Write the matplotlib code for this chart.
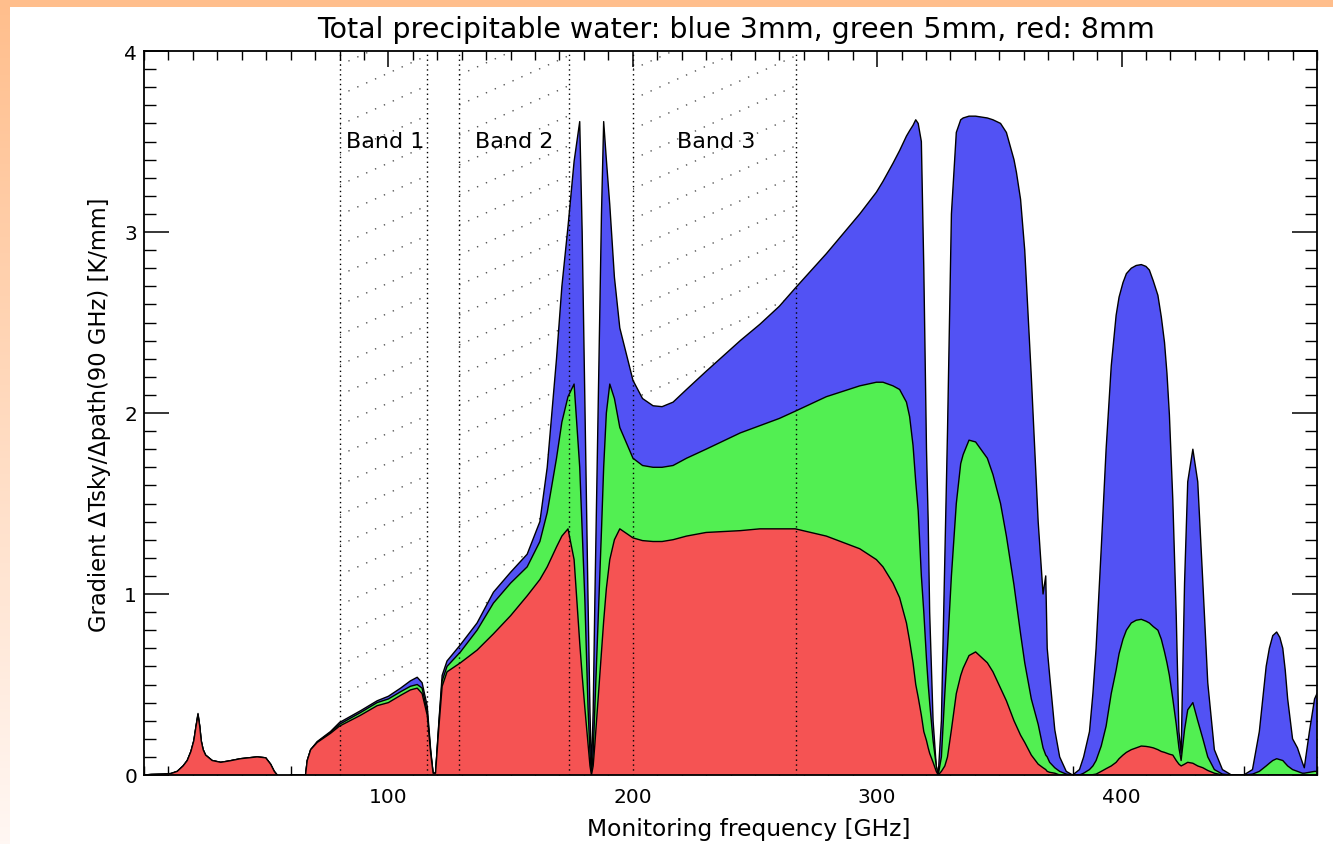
import numpy as np
import matplotlib
matplotlib.use("Agg")
import matplotlib.pyplot as plt
from matplotlib.patches import Rectangle

# ---------------- data ----------------
freq = [0, 3, 8, 11, 13.6, 16, 17.7, 19.2, 20.4, 21.3, 22.1, 22.8, 23.4, 24.2, 25.2,
        27.9, 31.4, 35, 39.5, 46.3, 49.8, 51.8, 53.3, 54.5, 57, 60, 66.1, 66.8, 68.2,
        70.9, 76.3, 80, 88.6, 95.4, 100, 105, 109, 111.8, 113.8, 115.9, 117.3, 118.3,
        119.3, 120.7, 122, 124, 129.5, 136.3, 143, 150, 156.8, 162, 165, 168.8, 171,
        173.5, 176, 178.3, 179.3, 180.4, 181.7, 182.5, 183.1, 183.8, 184.5, 186.2,
        187.2, 188.1, 189.2, 190.6, 192.5, 194.7, 200.1, 204, 208.3, 212, 216.5, 222,
        230, 244,
        252, 260, 266.5, 279.2, 292.9, 299.7, 302.4, 306.5, 309.2, 312, 313.3, 314.7,
        315.8, 316.8, 318.1, 319.1, 320.2, 320.9, 321.5, 322.9, 324.2, 325, 326.3,
        327.7, 328.8, 330.4, 332.4, 334.2, 335.2, 337.6, 340.3, 345.1, 347.4, 350.5,
        352.9, 356, 357, 358.7, 360.4, 363.1, 365.9, 367.9, 369, 369.6, 370.6, 372.7,
        374.7, 377.4, 380, 382.8, 384.5, 386.9, 388.3, 389.6, 391.7, 393.7, 395.8,
        397.8, 399.0, 400.6, 402.0, 404, 406.0, 408.1, 410.0, 411.4, 413.0, 414.9,
        416.3, 417.6, 418.6, 419.6, 421, 422.4, 423.5, 424.4, 425.8, 427.1, 429.2,
        431.2, 433.3, 435.3, 438, 441.3, 445, 450, 453.6, 456.4, 459.2, 460.5, 461.9,
        463.5, 464.8, 466, 467, 468, 470, 472, 474, 474.8, 476.9, 479, 480]

red_8mm = [0, 0.003, 0.005, 0.008, 0.02, 0.05, 0.08, 0.13, 0.19, 0.27, 0.33, 0.27, 0.19,
           0.14, 0.11, 0.08, 0.07, 0.078, 0.09, 0.10, 0.095, 0.06, 0.02, 0.0, np.nan, 0.0,
           0.0, 0.08, 0.14, 0.18, 0.23, 0.27, 0.33, 0.383, 0.40, 0.44, 0.47, 0.48, 0.45,
           0.33, 0.12, 0.01, 0.01, 0.27, 0.49, 0.57, 0.62, 0.69, 0.78, 0.88, 0.99, 1.08,
           1.15, 1.26, 1.32, 1.36, 1.19, 0.73, 0.55, 0.37, 0.17, 0.05, 0.0, 0.05, 0.17,
           0.49, 0.67, 0.85, 1.03, 1.19, 1.30, 1.36, 1.31, 1.295, 1.29, 1.29, 1.30, 1.32,
           1.34, 1.35,
           1.36, 1.36, 1.36, 1.32, 1.25, 1.19, 1.15, 1.06, 0.98, 0.84, 0.74, 0.62, 0.50,
           0.43, 0.33, 0.24, 0.19, 0.15, 0.12, 0.07, 0.02, 0.0, 0.02, 0.05, 0.10, 0.25,
           0.45, 0.55, 0.59, 0.66, 0.68, 0.62, 0.57, 0.48, 0.41, 0.30, 0.27, 0.22, 0.18,
           0.11, 0.06, 0.04, 0.03, 0.02, 0.015, 0.01, 0.0, 0.0, 0.0, 0.0, 0.0, 0.0,
           0.002, 0.005, 0.02, 0.035, 0.05, 0.07, 0.09, 0.11, 0.125, 0.14, 0.15, 0.16,
           0.158, 0.155, 0.15, 0.14, 0.13, 0.125, 0.12, 0.115, 0.11, 0.08, 0.06, 0.05,
           0.06, 0.07, 0.065, 0.05, 0.04, 0.025, 0.01, 0.0, 0.0, 0.0, 0.0, 0.0, 0.0,
           0.0, 0.0, 0.0, 0.0, 0.0, 0.0, 0.0, 0.0, 0.0, 0.0, 0.0, 0.0, 0.0, 0.0]

green_5mm = [0, 0.003, 0.005, 0.008, 0.02, 0.05, 0.08, 0.13, 0.19, 0.27, 0.335, 0.27, 0.19,
             0.14, 0.11, 0.08, 0.07, 0.078, 0.09, 0.10, 0.095, 0.06, 0.02, 0.0, np.nan, 0.0,
             0.0, 0.08, 0.14, 0.182, 0.235, 0.28, 0.345, 0.40, 0.42, 0.46, 0.49, 0.50, 0.48,
             0.35, 0.13, 0.01, 0.01, 0.29, 0.52, 0.60, 0.68, 0.80, 0.95, 1.06, 1.15, 1.29,
             1.45, 1.75, 1.95, 2.09, 2.16, 1.70, 1.35, 0.97, 0.37, 0.12, 0.0, 0.12, 0.37,
             0.97, 1.35, 1.70, 2.0, 2.16, 2.08, 1.92, 1.75, 1.71, 1.70, 1.70, 1.71, 1.75,
             1.80, 1.89,
             1.93, 1.97, 2.01, 2.09, 2.15, 2.17, 2.17, 2.15, 2.13, 2.06, 1.98, 1.82, 1.62,
             1.46, 1.10, 0.90, 0.64, 0.50, 0.40, 0.19, 0.05, 0.0, 0.10, 0.45, 0.70, 1.10,
             1.50, 1.72, 1.77, 1.85, 1.84, 1.75, 1.66, 1.50, 1.32, 1.05, 0.95, 0.78, 0.62,
             0.42, 0.28, 0.15, 0.11, 0.10, 0.07, 0.04, 0.02, 0.005, 0.0, 0.0, 0.01, 0.03,
             0.05, 0.08, 0.16, 0.27, 0.45, 0.58, 0.67, 0.75, 0.80, 0.84, 0.855, 0.86, 0.85,
             0.84, 0.82, 0.80, 0.75, 0.68, 0.62, 0.55, 0.42, 0.28, 0.15, 0.08, 0.25, 0.36,
             0.40, 0.30, 0.20, 0.10, 0.03, 0.005, 0.0, 0.0, 0.005, 0.02, 0.05, 0.065, 0.08,
             0.09, 0.085, 0.08, 0.065, 0.05, 0.03, 0.02, 0.01, 0.01, 0.015, 0.02, 0.02]

blue_3mm = [0, 0.003, 0.005, 0.008, 0.02, 0.05, 0.08, 0.13, 0.19, 0.27, 0.34, 0.27, 0.19,
            0.14, 0.11, 0.08, 0.07, 0.078, 0.09, 0.10, 0.095, 0.06, 0.02, 0.0, np.nan, 0.0,
            0.0, 0.08, 0.14, 0.185, 0.24, 0.29, 0.355, 0.41, 0.435, 0.48, 0.52, 0.54, 0.51,
            0.38, 0.14, 0.01, 0.01, 0.30, 0.55, 0.63, 0.72, 0.84, 1.01, 1.12, 1.22, 1.40,
            1.70, 2.30, 2.70, 3.03, 3.39, 3.61, 3.0, 2.06, 0.97, 0.35, 0.02, 0.35, 0.97,
            2.30, 3.10, 3.61, 3.40, 3.15, 2.75, 2.47, 2.18, 2.08, 2.04, 2.035, 2.06, 2.13,
            2.23, 2.40,
            2.49, 2.59, 2.69, 2.88, 3.10, 3.22, 3.28, 3.38, 3.45, 3.53, 3.56, 3.59, 3.62,
            3.60, 3.50, 2.80, 1.80, 1.40, 0.90, 0.30, 0.05, 0.0, 0.30, 1.20, 1.90, 3.10,
            3.55, 3.62, 3.63, 3.64, 3.64, 3.63, 3.62, 3.60, 3.55, 3.40, 3.33, 3.18, 2.90,
            2.20, 1.40, 1.00, 1.10, 0.70, 0.55, 0.25, 0.10, 0.02, 0.0, 0.03, 0.10, 0.24,
            0.45, 0.70, 1.25, 1.80, 2.26, 2.54, 2.64, 2.72, 2.77, 2.80, 2.815, 2.82, 2.81,
            2.79, 2.73, 2.65, 2.53, 2.39, 2.22, 1.99, 1.52, 0.88, 0.24, 0.12, 1.06, 1.62,
            1.80, 1.62, 1.06, 0.51, 0.14, 0.03, 0.0, 0.0, 0.03, 0.24, 0.60, 0.70, 0.77,
            0.79, 0.76, 0.70, 0.58, 0.42, 0.20, 0.15, 0.07, 0.04, 0.24, 0.42, 0.45]

band_names = ["Band 1", "Band 2", "Band 3"]
band_lo = [80, 129, 200]
band_hi = [116, 174, 267]
band_label_x = [98.5, 151.5, 234]
band_label_y = 3.5

x_major = [100, 200, 300, 400]
y_major = [0, 1, 2, 3, 4]

title = "Total precipitable water: blue 3mm, green 5mm, red: 8mm"
xlabel = "Monitoring frequency [GHz]"
ylabel = "Gradient \u0394Tsky/\u0394path(90 GHz) [K/mm]"

# ---------------- figure ----------------
W, H = 1333, 845
fig = plt.figure(figsize=(W / 100, H / 100), dpi=100, facecolor="white")

# peach frame on left and top
gax = fig.add_axes([0, 0, 10 / W, 1])
grad = np.linspace(0, 1, 256)[:, None]
top_c = np.array([255, 190, 140]) / 255
bot_c = np.array([255, 247, 243]) / 255
img = top_c[None, None, :] * (1 - grad[:, :, None]) + bot_c[None, None, :] * grad[:, :, None]
gax.imshow(img, aspect="auto", extent=[0, 1, 0, 1])
gax.axis("off")
tax = fig.add_axes([0, 1 - 8 / H, 1, 8 / H])
tax.set_facecolor(top_c)
tax.set_xticks([]); tax.set_yticks([])
for s in tax.spines.values():
    s.set_visible(False)

L, R, T, B = 144, 1317, 52, 776
ax = fig.add_axes([L / W, 1 - B / H, (R - L) / W, (B - T) / H])
ax.set_xlim(0, 480)
ax.set_ylim(0, 4)

f = np.array(freq, dtype=float)
series = [(blue_3mm, "#5252F4"), (green_5mm, "#52EF52"), (red_8mm, "#F55353")]
z = 3
for vals, col in series:
    v = np.array(vals, dtype=float)
    ax.fill_between(f, 0, v, where=~np.isnan(v), facecolor=col, edgecolor="none",
                    zorder=z, interpolate=False)
    ax.plot(f, v, color="black", lw=1.0, zorder=z + 0.5)
    z += 1

# hatched bands (dotted diagonal lines behind the fills)
ppx = (R - L) / 480.0
ppy = (B - T) / 4.0
slope_px = 0.45
spacing_px = 30.0
m = slope_px * ppx / ppy
dy = spacing_px / ppy
for lo, hi in zip(band_lo, band_hi):
    rect = Rectangle((lo, 0), hi - lo, 4, transform=ax.transData, facecolor="none",
                     edgecolor="none")
    ax.add_patch(rect)
    c = -m * (hi - lo) - 0.5
    while c < 4.5:
        xs = np.array([lo, hi])
        ys = c + m * (xs - lo)
        ln, = ax.plot(xs, ys, color="#555555", lw=1.0, ls=(0, (1, 6)), zorder=1)
        ln.set_clip_path(rect)
        c += dy
    for xv in (lo, hi):
        ax.axvline(xv, color="black", lw=1.0, ls=(0, (1, 2.5)), zorder=10)

for name, xl in zip(band_names, band_label_x):
    ax.text(xl, band_label_y, name, ha="center", va="center", fontsize=16,
            color="black", zorder=11)

# ticks and spines
ax.set_xticks(x_major)
ax.set_xticks(np.arange(0, 481, 10), minor=True)
ax.set_yticks(y_major)
ax.set_yticks(np.arange(0, 4.01, 0.1), minor=True)
ax.tick_params(axis="x", which="major", direction="in", length=11.5, width=1.1,
               top=True, bottom=True, labelsize=14.5, pad=9)
ax.tick_params(axis="x", which="minor", direction="in", length=6.5, width=1.0,
               top=True, bottom=True)
ax.tick_params(axis="y", which="major", direction="in", length=18, width=1.1,
               left=True, right=True, labelsize=14.5, pad=5)
ax.tick_params(axis="y", which="minor", direction="in", length=8.6, width=1.0,
               left=True, right=True)
for s in ax.spines.values():
    s.set_linewidth(1.3)
    s.set_zorder(20)

fig.text(736 / W, 1 - 30 / H, title, ha="center", va="center", fontsize=20.5)
fig.text(749 / W, 1 - 830 / H, xlabel, ha="center", va="center", fontsize=16.8)
fig.text(100 / W, 1 - 415 / H, ylabel, ha="center", va="center", rotation=90,
         fontsize=16.3)

fig.savefig("out.png", dpi=100, facecolor="white")
